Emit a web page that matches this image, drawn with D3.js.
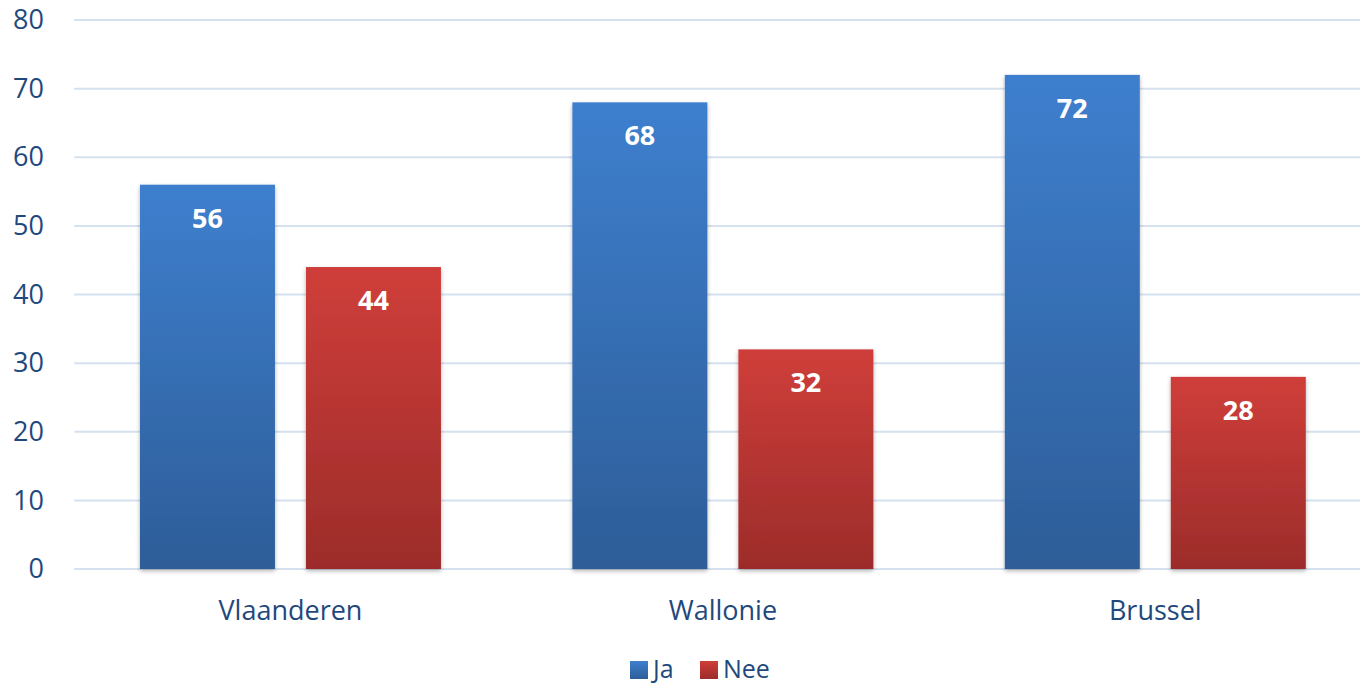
<!DOCTYPE html>
<html><head><meta charset="utf-8">
<script src="https://cdn.jsdelivr.net/npm/d3@7"></script>
<style>body{margin:0;background:#fff;overflow:hidden}text{font-family:"Open Sans","Noto Sans",sans-serif}</style>
</head><body>
<svg id="c" width="1360" height="686"></svg>
<script>
const categories = ["Vlaanderen","Wallonie","Brussel"];
const seriesNames = ["Ja","Nee"];
const ja = [56,68,72];
const nee = [44,32,28];
const yTicks = [0,10,20,30,40,50,60,70,80];

(function(){
const svg = d3.select("#c");
const W=1360,H=686;
const pLeft=74.25, pRight=1371.5, pTop=20, pBottom=569;
const x = d3.scaleBand().domain(categories).range([pLeft,pRight]).paddingInner(0).paddingOuter(0);
const y = d3.scaleLinear().domain([0,80]).range([pBottom,pTop]);
const colors = {Ja:["#3E7FCE","#2D5D98"],Nee:["#CF3E3A","#9C2C2A"]};
const txt = "#1F497D";

const defs = svg.append("defs");
seriesNames.forEach(s=>{
  const g=defs.append("linearGradient").attr("id","g"+s).attr("x1",0).attr("y1",0).attr("x2",0).attr("y2",1);
  g.append("stop").attr("offset","0%").attr("stop-color",colors[s][0]);
  g.append("stop").attr("offset","100%").attr("stop-color",colors[s][1]);
});
const f=defs.append("filter").attr("id","sh").attr("x","-10%").attr("y","-10%").attr("width","120%").attr("height","120%");
f.append("feDropShadow").attr("dx",0).attr("dy",2).attr("stdDeviation",2).attr("flood-color","#000").attr("flood-opacity",0.3);

svg.append("g").selectAll("line").data(yTicks).join("line")
  .attr("x1",pLeft).attr("x2",W).attr("y1",d=>y(d)).attr("y2",d=>y(d))
  .attr("stroke","#D6E1EF").attr("stroke-width",2);

const yAxis = d3.axisLeft(y).tickValues(yTicks).tickSize(0).tickPadding(0);
const ya = svg.append("g").attr("transform","translate(44,0)").call(yAxis);
ya.select(".domain").remove();
ya.selectAll("text").attr("font-size",27).attr("fill",txt).attr("text-anchor","end").attr("font-family","'Open Sans',sans-serif");

const bw=135, gap=31, off=(x.bandwidth()-2*bw-gap)/2;
const data = [];
categories.forEach((c,i)=>{
  data.push({c,s:"Ja",v:ja[i],k:0});
  data.push({c,s:"Nee",v:nee[i],k:1});
});
const bx = d=>x(d.c)+off+d.k*(bw+gap);
svg.append("g").selectAll("rect").data(data).join("rect")
  .attr("x",bx).attr("width",bw).attr("y",d=>y(d.v)).attr("height",d=>y(0)-y(d.v))
  .attr("fill",d=>"url(#g"+d.s+")").attr("filter","url(#sh)");
svg.append("g").selectAll("text").data(data).join("text")
  .attr("x",d=>bx(d)+bw/2).attr("y",d=>y(d.v)+43)
  .attr("text-anchor","middle").attr("fill","#fff").attr("font-weight","bold").attr("font-size",27)
  .text(d=>d.v);

svg.append("g").selectAll("text").data(categories).join("text")
  .attr("x",d=>x(d)+x.bandwidth()/2).attr("y",620)
  .attr("text-anchor","middle").attr("fill",txt).attr("font-size",27).text(d=>d);

const leg = svg.append("g");
const lx=[630,700];
seriesNames.forEach((s,i)=>{
  leg.append("rect").attr("x",lx[i]).attr("y",661).attr("width",18).attr("height",18).attr("fill","url(#g"+s+")");
  leg.append("text").attr("x",lx[i]+23).attr("y",678).attr("fill",txt).attr("font-size",25).text(s);
});
})();
</script>
</body></html>
